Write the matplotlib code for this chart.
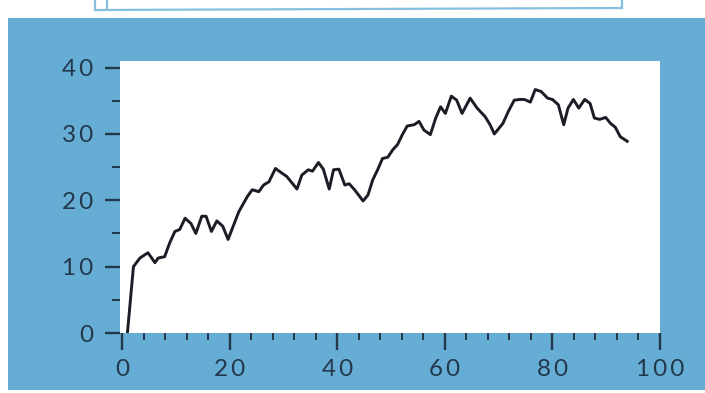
import matplotlib.pyplot as plt
from matplotlib.patches import Rectangle
from matplotlib.lines import Line2D
from matplotlib.ticker import MultipleLocator

# values
x_vals = [1.0, 2.1, 3.3, 4.8, 6.1, 6.7, 7.9, 8.8, 9.8, 10.7, 11.7, 12.8, 13.7, 14.8,
          15.6, 16.6, 17.6, 18.7, 19.7, 20.5, 21.7, 23.3, 24.2, 25.4, 26.3, 27.3,
          28.5, 29.7, 30.6, 32.5, 33.4, 34.6, 35.4, 36.5, 37.4, 38.5, 39.3, 40.3,
          41.4, 42.2, 43.2, 44.8, 45.7, 46.6, 47.5, 48.4, 49.4, 50.3, 51.2, 52.1,
          53.0, 54.3, 55.2, 56.1, 57.3, 58.3, 59.2, 60.1, 61.2, 62.2, 63.2, 64.7,
          66.0, 67.5, 68.4, 69.2, 69.9, 70.8, 71.8, 72.9, 73.9, 74.8, 75.9, 76.8,
          77.9, 79.1, 80.0, 81.1, 82.1, 82.9, 83.9, 84.9, 86.0, 87.0, 87.8, 88.8,
          89.9, 90.8, 91.7, 92.6, 93.9]
y_vals = [0.2, 10.0, 11.3, 12.1, 10.6, 11.3, 11.5, 13.5, 15.3, 15.6, 17.3, 16.5, 15.0, 17.6,
          17.6, 15.3, 16.9, 16.1, 14.1, 15.8, 18.3, 20.6, 21.6, 21.3, 22.3, 22.8,
          24.8, 24.1, 23.6, 21.7, 23.8, 24.6, 24.4, 25.7, 24.7, 21.7, 24.6, 24.7,
          22.3, 22.5, 21.6, 19.9, 20.8, 23.1, 24.6, 26.3, 26.5, 27.6, 28.4, 29.9,
          31.2, 31.4, 31.9, 30.6, 29.9, 32.4, 34.1, 33.1, 35.7, 35.1, 33.1, 35.4,
          33.9, 32.6, 31.4, 30.0, 30.7, 31.6, 33.4, 35.1, 35.2, 35.2, 34.8, 36.7,
          36.4, 35.4, 35.2, 34.4, 31.4, 33.9, 35.2, 33.9, 35.2, 34.6, 32.4, 32.2,
          32.5, 31.6, 31.0, 29.6, 28.9]

x_ticks = [0, 20, 40, 60, 80, 100]
y_ticks = [0, 10, 20, 30, 40]

W, H = 705, 393
blue = '#66add6'
ink = '#23384a'

fig = plt.figure(figsize=(W / 100, H / 100), dpi=100)
fig.patch.set_facecolor('white')

# blue panel behind the chart
fig.add_artist(Rectangle((8 / W, 3 / H), 1 - 8 / W, (390 - 18) / H,
                         transform=fig.transFigure, facecolor=blue, edgecolor='none', zorder=0))

# bottom of the box above the chart
box_col = '#86bfdf'
for xs, ys in [([95, 95], [0, 10]), ([95, 622], [10, 8]), ([622, 622], [8, 0]), ([107, 107], [0, 8])]:
    fig.add_artist(Line2D([v / W for v in xs], [1 - v / H for v in ys],
                          transform=fig.transFigure, color=box_col, lw=1.6))

ax = fig.add_axes([120 / W, 1 - 333 / H, (660 - 120) / W, (333 - 61) / H])
ax.set_facecolor('white')
ax.plot(x_vals, y_vals, color='#1c1c26', lw=2.1, solid_joinstyle='round')

ax.set_xlim(-0.4, 99.5)
ax.set_ylim(0, 41)
for s in ax.spines.values():
    s.set_visible(False)

ax.set_xticks(x_ticks)
ax.set_yticks(y_ticks)
ax.xaxis.set_minor_locator(MultipleLocator(4))
ax.yaxis.set_minor_locator(MultipleLocator(5))
ax.set_xticklabels(['\u2009'.join(str(t)) for t in x_ticks])
ax.set_yticklabels(['\u2009'.join(str(t)) for t in y_ticks])

ax.tick_params(axis='x', which='major', length=12, width=1.7, color=ink, pad=7)
ax.tick_params(axis='x', which='minor', length=5, width=1.4, color=ink)
ax.tick_params(axis='y', which='major', length=11, width=1.7, color=ink, pad=8)
ax.tick_params(axis='y', which='minor', length=6, width=1.4, color=ink)
for lab in ax.get_xticklabels() + ax.get_yticklabels():
    lab.set_family(['Lato', 'DejaVu Sans'])
    lab.set_fontsize(17.5)
    lab.set_color(ink)

fig.savefig('out.png', dpi=100)
